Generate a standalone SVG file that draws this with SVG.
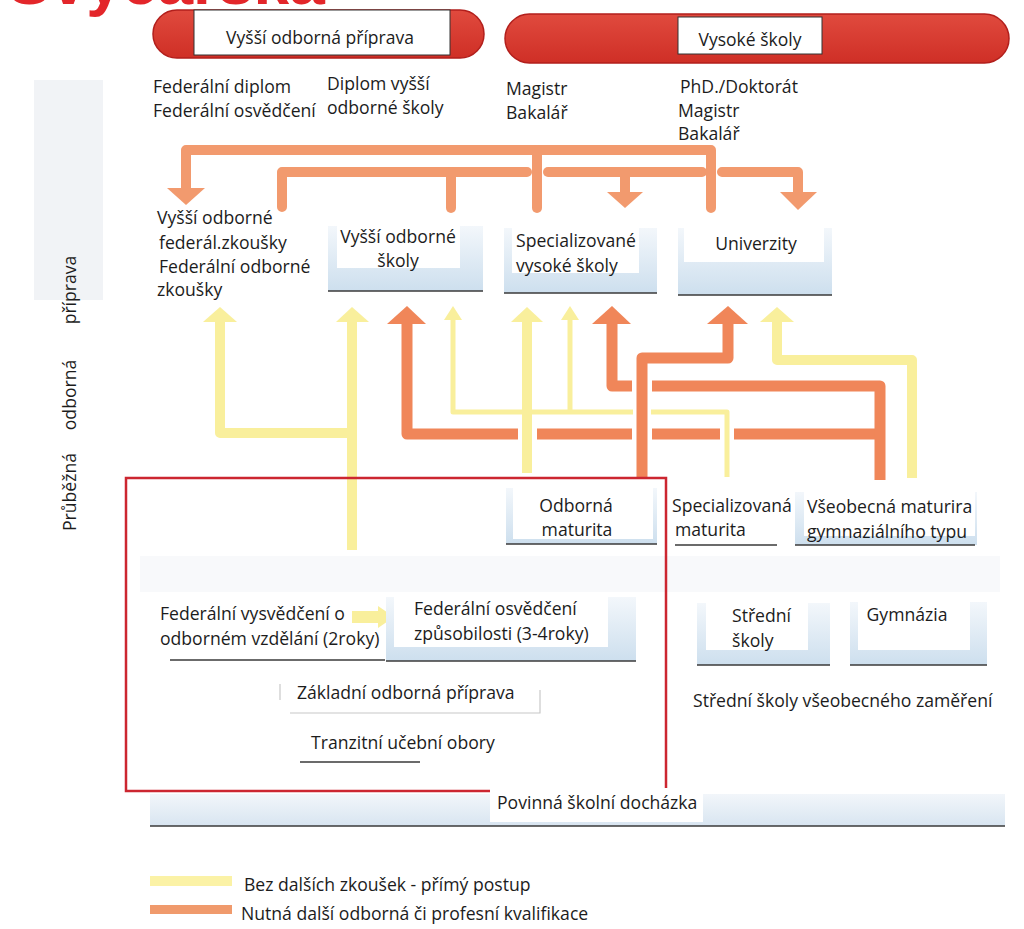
<svg xmlns="http://www.w3.org/2000/svg" width="1024" height="929" viewBox="0 0 1024 929">
<style>
  text { font-family: "Open Sans", "Noto Sans", "DejaVu Sans", sans-serif; font-size: 17.6px; fill: #1c1c1c; }
  .hd { font-size: 17.5px; }
  .mid { text-anchor: middle; }
  .title { font-family: "Liberation Sans", Arial, sans-serif; font-weight: bold; font-size: 64px; fill: #e3262a; }
  .pill { fill: url(#red); stroke: #b21f1c; stroke-width: 1.5; }
  .lab { fill: #ffffff; stroke: #333; stroke-width: 1; }
  .outer { fill: url(#bx); }
  .inner { fill: #ffffff; }
  .base { stroke: #3a3a3a; stroke-width: 1.6; fill: none; }
  .faint { stroke: #c8c8c8; stroke-width: 1.2; fill: none; }
  .or { stroke: #f29a6e; stroke-width: 10; fill: none; stroke-linejoin: round; stroke-linecap: round; }
  .orb { stroke: #f08659; stroke-width: 11; fill: none; stroke-linejoin: round; stroke-linecap: butt; }
  .ye { stroke: #f9ef9c; stroke-width: 10; fill: none; stroke-linejoin: round; stroke-linecap: butt; }
  .yt { stroke: #f9ef9c; stroke-width: 5; fill: none; stroke-linejoin: round; stroke-linecap: butt; }
  .ohead { fill: #f29a6e; }
  .obhead { fill: #f08659; }
  .yhead { fill: #f9ef9c; }
</style>
<defs>
  <linearGradient id="red" x1="0" y1="0" x2="0" y2="1">
    <stop offset="0" stop-color="#e04a3e"/>
    <stop offset="1" stop-color="#cf2f26"/>
  </linearGradient>
  <linearGradient id="bx" x1="0" y1="0" x2="0" y2="1">
    <stop offset="0" stop-color="#f3f7fb"/>
    <stop offset="1" stop-color="#cddfee"/>
  </linearGradient>
  <linearGradient id="band" x1="0" y1="0" x2="0" y2="1">
    <stop offset="0" stop-color="#f2f6fa"/>
    <stop offset="1" stop-color="#d8e5f1"/>
  </linearGradient>
</defs>
<rect width="1024" height="929" fill="#ffffff"/>

<!-- cut-off title -->
<text class="title" x="8" y="4">Švýcarska</text>

<!-- left side band -->
<rect x="34" y="80" width="69" height="220" fill="#f1f3f6"/>
<g id="side-label">
  <text class="mid" transform="translate(76,492) rotate(-90)">Průběžná</text>
  <text class="mid" transform="translate(76,395) rotate(-90)">odborná</text>
  <text class="mid" transform="translate(76,290) rotate(-90)">příprava</text>
</g>

<!-- header banners -->
<g id="hdr-vop">
  <rect class="pill" x="153" y="10" width="331" height="48" rx="24"/>
  <rect class="lab" x="194" y="10" width="256" height="45"/>
  <text class="hd mid" x="320" y="44">Vyšší odborná příprava</text>
</g>
<g id="hdr-vs">
  <rect class="pill" x="505" y="14" width="504" height="49" rx="24.5"/>
  <rect class="lab" x="678" y="17" width="144" height="37"/>
  <text class="hd mid" x="750" y="46">Vysoké školy</text>
</g>

<!-- diplomas -->
<g id="dipl-fed">
  <text x="153" y="93">Federální diplom</text>
  <text x="153" y="117">Federální osvědčení</text>
</g>
<g id="dipl-vos">
  <text x="327" y="90">Diplom vyšší</text>
  <text x="327" y="114">odborné školy</text>
</g>
<g id="dipl-svs">
  <text x="506" y="95">Magistr</text>
  <text x="506" y="119">Bakalář</text>
</g>
<g id="dipl-uni">
  <text x="680" y="93">PhD./Doktorát</text>
  <text x="678" y="117">Magistr</text>
  <text x="678" y="140">Bakalář</text>
</g>

<!-- background faint band row 4 -->
<rect x="140" y="556" width="860" height="36" fill="#f8f9fb"/>

<!-- connectors -->
<g id="connectors">
  <!-- top orange network -->
  <path class="or" d="M186,190 V150 H711 V208"/>
  <path class="or" d="M537,150 V208"/>
  <polygon class="ohead" points="167,188 205,188 186,205"/>
  <path class="or" d="M282,207 V172 H527"/>
  <path class="or" d="M548,172 H702"/>
  <path class="or" d="M722,172 H798 V194"/>
  <path class="or" d="M451,172 V208"/>
  <path class="or" d="M625,172 V194"/>
  <polygon class="ohead" points="607,192 643,192 625,208"/>
  <polygon class="ohead" points="780,192 817,192 798,210"/>

  <!-- thin yellow -->
  <path class="yt" d="M727,477 V412 H651"/>
  <path class="yt" d="M633,412 H453 V319"/>
  <path class="yt" d="M570,412 V319"/>
  <polygon class="yhead" points="444,320 462,320 453,306"/>
  <polygon class="yhead" points="561,320 579,320 570,306"/>

  <!-- thick yellow -->
  <path class="ye" d="M352,550 V320"/>
  <path class="ye" d="M352,433 H220 V320"/>
  <polygon class="yhead" points="203,322 237,322 220,307"/>
  <polygon class="yhead" points="336,322 369,322 352,307"/>
  <path class="ye" d="M527,473 V320"/>
  <polygon class="yhead" points="511,322 543,322 527,307"/>
  <path class="ye" d="M912,478 V360 H777 V320"/>
  <polygon class="yhead" points="760,322 794,322 777,307"/>

  <!-- orange lower network -->
  <path class="orb" d="M407,320 V434 H518"/>
  <path class="orb" d="M537,434 H632"/>
  <path class="orb" d="M652,434 H720"/>
  <path class="orb" d="M734,434 H880"/>
  <polygon class="obhead" points="387,324 426,324 407,306"/>
  <path class="orb" d="M880,480 V386 H652"/>
  <path class="orb" d="M632,386 H612 V320"/>
  <polygon class="obhead" points="592,324 631,324 612,306"/>
  <path class="orb" d="M642,477 V358 H728 V320"/>
  <polygon class="obhead" points="707,324 748,324 728,306"/>

  <!-- small yellow arrow -->
  <polygon class="yhead" points="352,611 378,611 378,606 394,617 378,628 378,623 352,623"/>
</g>

<!-- row 2 nodes -->
<g id="n-fed-zkousky">
  <text x="157" y="224">Vyšší odborné</text>
  <text x="159" y="249">federál.zkoušky</text>
  <text x="159" y="273">Federální odborné</text>
  <text x="157" y="296">zkoušky</text>
</g>
<g id="n-vos">
  <rect class="outer" x="328" y="226" width="155" height="65"/>
  <rect class="inner" x="337" y="226" width="123" height="42"/>
  <line class="base" x1="328" y1="291" x2="483" y2="291"/>
  <text class="mid" x="398" y="243">Vyšší odborné</text>
  <text class="mid" x="398" y="267">školy</text>
</g>
<g id="n-svs">
  <rect class="outer" x="504" y="228" width="153" height="65"/>
  <rect class="inner" x="512" y="228" width="127" height="45"/>
  <line class="base" x1="504" y1="293" x2="657" y2="293"/>
  <text x="516" y="247">Specializované</text>
  <text x="516" y="272">vysoké školy</text>
</g>
<g id="n-uni">
  <rect class="outer" x="678" y="228" width="154" height="67"/>
  <rect class="inner" x="684" y="228" width="140" height="34"/>
  <line class="base" x1="678" y1="295" x2="832" y2="295"/>
  <text class="mid" x="756" y="250">Univerzity</text>
</g>

<!-- row 3 nodes -->
<g id="n-odb-mat">
  <rect class="outer" x="506" y="488" width="151" height="56"/>
  <rect class="inner" x="513" y="488" width="140" height="51"/>
  <line class="base" x1="506" y1="544" x2="657" y2="544"/>
  <text class="mid" x="576" y="512">Odborná</text>
  <text class="mid" x="577" y="536">maturita</text>
</g>
<g id="n-spec-mat">
  <line class="base" x1="675" y1="545" x2="777" y2="545"/>
  <text x="672" y="512">Specializovaná</text>
  <text x="675" y="536">maturita</text>
</g>
<g id="n-vseob-mat">
  <rect class="outer" x="795" y="492" width="182" height="53"/>
  <rect class="inner" x="804" y="490" width="171" height="46"/>
  <line class="base" x1="795" y1="545" x2="975" y2="545"/>
  <text x="807" y="513">Všeobecná maturira</text>
  <text x="807" y="538">gymnaziálního typu</text>
</g>

<!-- row 4 nodes -->
<g id="n-fed-vysv">
  <line class="base" x1="170" y1="660" x2="385" y2="660"/>
  <text x="160" y="620">Federální vysvědčení o</text>
  <text x="160" y="645">odborném vzdělání (2roky)</text>
</g>
<g id="n-fed-osv">
  <rect class="outer" x="386" y="597" width="250" height="64"/>
  <rect class="inner" x="394" y="597" width="214" height="50"/>
  <line class="base" x1="386" y1="661" x2="636" y2="661"/>
  <text x="414" y="615">Federální osvědčení</text>
  <text x="414" y="640">způsobilosti (3-4roky)</text>
</g>
<g id="n-stredni">
  <rect class="outer" x="697" y="603" width="133" height="62"/>
  <rect class="inner" x="706" y="603" width="102" height="47"/>
  <line class="base" x1="697" y1="665" x2="830" y2="665"/>
  <text x="732" y="622">Střední</text>
  <text x="732" y="647">školy</text>
</g>
<g id="n-gymn">
  <rect class="outer" x="850" y="602" width="137" height="63"/>
  <rect class="inner" x="858" y="602" width="112" height="48"/>
  <line class="base" x1="850" y1="665" x2="987" y2="665"/>
  <text class="mid" x="907" y="621">Gymnázia</text>
</g>
<g id="n-ss-vseob">
  <text x="693" y="707">Střední školy všeobecného zaměření</text>
</g>
<g id="n-zakladni">
  <path class="faint" d="M280,684 V700 M290,713 H540 V690"/>
  <text x="297" y="699">Základní odborná příprava</text>
</g>
<g id="n-tranzit">
  <line class="base" x1="300" y1="762" x2="420" y2="762" stroke-width="1.2"/>
  <text x="311" y="749">Tranzitní učební obory</text>
</g>

<!-- red frame -->
<rect x="126" y="478" width="540" height="313" fill="none" stroke="#cc2630" stroke-width="2.5"/>

<!-- compulsory schooling band -->
<g id="n-povinna">
  <rect x="150" y="794" width="855" height="32" fill="url(#band)"/>
  <rect x="490" y="788" width="213" height="34" fill="#ffffff"/>
  <line class="base" x1="150" y1="826" x2="1005" y2="826"/>
  <text x="497" y="809">Povinná školní docházka</text>
</g>

<!-- legend -->
<g id="legend">
  <rect x="150" y="876" width="82" height="10" fill="#fbf2a6"/>
  <text x="244" y="891">Bez dalších zkoušek - přímý postup</text>
  <rect x="150" y="905" width="82" height="9" fill="#f09a6c"/>
  <text x="241" y="920">Nutná další odborná či profesní kvalifikace</text>
</g>
</svg>
